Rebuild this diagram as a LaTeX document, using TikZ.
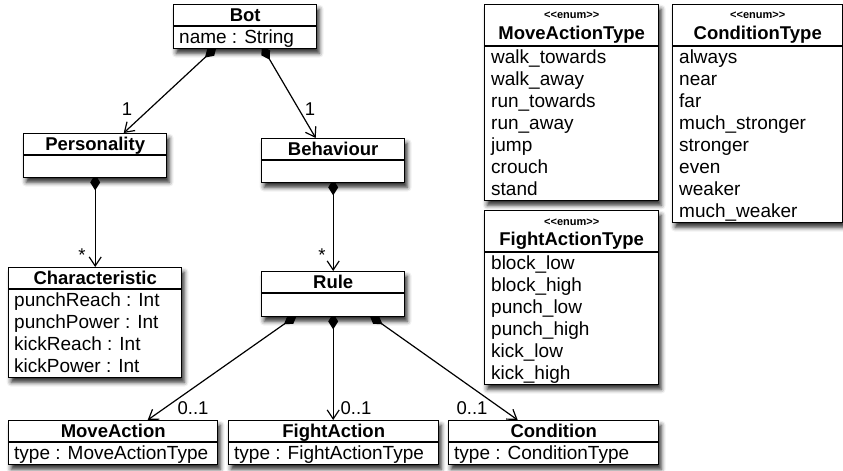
\documentclass[tikz,border=0pt]{standalone}
\usepackage{fontspec}
\setmainfont{Liberation Sans}
\usetikzlibrary{arrows.meta,shadows.blur,backgrounds}

\tikzset{
 umlbox/.style={draw=black, line width=1.4pt, fill=white, inner sep=0, anchor=north west,
   blur shadow={shadow xshift=2.5pt, shadow yshift=-4.5pt, shadow blur radius=4.5pt, shadow opacity=85}},
 ttl/.style={font=\fontsize{18.5}{22}\selectfont\bfseries, anchor=base, inner sep=0},
 stereo/.style={font=\fontsize{11}{12}\selectfont\bfseries, anchor=base, inner sep=0},
 itm/.style={font=\fontsize{19}{22}\selectfont, anchor=base west, inner sep=0},
 lbl/.style={font=\fontsize{18.5}{22}\selectfont, anchor=base, inner sep=0},
 comp/.style={line width=1.2pt, {Diamond[length=16pt,width=10pt]}-{Straight Barb[length=9pt,width=12pt]}, shorten <=-4pt},
 sepline/.style={line width=1.2pt},
}

\newcommand\mkclass[6]{%
  \node[umlbox, minimum width=#4pt, minimum height=#5pt] (#1) at (#2,#3) {};
  \draw[sepline] ([yshift=-#6pt]#1.north west) -- ([yshift=-#6pt]#1.north east);
}

\begin{document}
\begin{tikzpicture}[x=1pt,y=-1pt]
\useasboundingbox (0,0) rectangle (843,471);

% classes
\mkclass{bot}{173}{4}{143}{44}{22}
\mkclass{pers}{23}{133}{143}{44}{22}
\mkclass{beh}{261}{138}{143}{44}{22}
\mkclass{char}{8}{267}{173}{110}{22}
\mkclass{rule}{261}{271}{143}{45}{22}
\mkclass{move}{8}{420}{209}{44}{22}
\mkclass{fight}{228}{420}{210}{44}{22}
\mkclass{cond}{448}{420}{210}{44}{22}
\mkclass{mat}{484}{4}{174}{196}{42}
\mkclass{fat}{484}{210}{174}{174}{42}
\mkclass{ct}{672}{4}{170}{218}{42}

% titles
\node[ttl] (t-bot) at ([yshift=-17pt]bot.north) {Bot};
\node[ttl] (t-pers) at ([yshift=-17pt]pers.north) {Personality};
\node[ttl] (t-beh) at ([yshift=-17pt]beh.north) {Behaviour};
\node[ttl] (t-char) at ([yshift=-17pt]char.north) {Characteristic};
\node[ttl] (t-rule) at ([yshift=-17pt]rule.north) {Rule};
\node[ttl] (t-move) at ([yshift=-17pt]move.north) {MoveAction};
\node[ttl] (t-fight) at ([yshift=-17pt]fight.north) {FightAction};
\node[ttl] (t-cond) at ([yshift=-17pt]cond.north) {Condition};
\node[stereo] (s-mat) at ([yshift=-15pt]mat.north) {<{}<enum>{}>};
\node[ttl] (t-mat) at ([yshift=-35pt]mat.north) {MoveActionType};
\node[stereo] (s-fat) at ([yshift=-15pt]fat.north) {<{}<enum>{}>};
\node[ttl] (t-fat) at ([yshift=-35pt]fat.north) {FightActionType};
\node[stereo] (s-ct) at ([yshift=-15pt]ct.north) {<{}<enum>{}>};
\node[ttl] (t-ct) at ([yshift=-35pt]ct.north) {ConditionType};

% attributes
\node[itm] (a-bot) at ([xshift=6pt,yshift=-39pt]bot.north west) {name : String};
\foreach \t [count=\i] in {punchReach : Int, punchPower : Int, kickReach : Int, kickPower : Int}
  \node[itm] (a-char-\i) at ([xshift=6pt,yshift={-(39+22*(\i-1))*1pt}]char.north west) {\t};
\node[itm] (a-move) at ([xshift=6pt,yshift=-39pt]move.north west) {type : MoveActionType};
\node[itm] (a-fight) at ([xshift=6pt,yshift=-39pt]fight.north west) {type : FightActionType};
\node[itm] (a-cond) at ([xshift=6pt,yshift=-39pt]cond.north west) {type : ConditionType};
\foreach \t [count=\i] in {walk\_towards, walk\_away, run\_towards, run\_away, jump, crouch, stand}
  \node[itm] (a-mat-\i) at ([xshift=7pt,yshift={-(59+22*(\i-1))*1pt}]mat.north west) {\t};
\foreach \t [count=\i] in {block\_low, block\_high, punch\_low, punch\_high, kick\_low, kick\_high}
  \node[itm] (a-fat-\i) at ([xshift=7pt,yshift={-(59+22*(\i-1))*1pt}]fat.north west) {\t};
\foreach \t [count=\i] in {always, near, far, much\_stronger, stronger, even, weaker, much\_weaker}
  \node[itm] (a-ct-\i) at ([xshift=7pt,yshift={-(59+22*(\i-1))*1pt}]ct.north west) {\t};

% connectors
\begin{pgfonlayer}{background}
\draw[comp] ([xshift=-31.5pt]bot.south) -- ([xshift=28.5pt]pers.north);
\draw[comp] ([xshift=18.5pt]bot.south) -- ([xshift=-17.5pt]beh.north);
\draw[comp] (pers.south) -- (char.north);
\draw[comp] (beh.south) -- (rule.north);
\draw[comp] ([xshift=-39.5pt]rule.south) -- ([xshift=34.5pt]move.north);
\draw[comp] (rule.south) -- (rule.south |- fight.north);
\draw[comp] ([xshift=39.5pt]rule.south) -- ([xshift=-36pt]cond.north);
\end{pgfonlayer}

% multiplicities
\node[lbl] (m1) at (127,115) {1};
\node[lbl] (m2) at (310,115) {1};
\node[lbl] (m3) at (82,261) {*};
\node[lbl] (m4) at (322,261) {*};
\node[lbl] (m5) at (193,414) {0..1};
\node[lbl] (m6) at (356,414) {0..1};
\node[lbl] (m7) at (472,414) {0..1};
\end{tikzpicture}
\end{document}
